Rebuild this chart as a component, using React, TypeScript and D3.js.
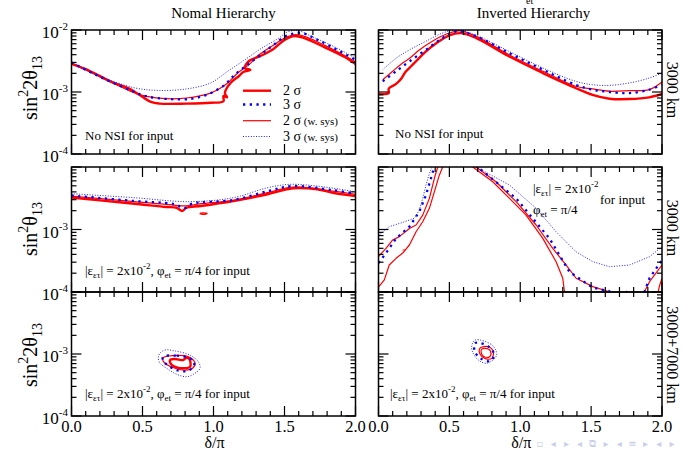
import React from "react";
import * as d3 from "d3";

type Pt = [number, number];

const FONT = "'Liberation Serif', 'Times New Roman', Times, serif";

// axis ticks
const xMajorTicks = [0, 0.5, 1.0, 1.5, 2.0];
const xTickLabels = ["0.0", "0.5", "1.0", "1.5", "2.0"];
const yDecades = [1e-4, 1e-3, 1e-2];
const yDecadeLabels = ["-4", "-3", "-2"];

const legendLabels = ["2 σ", "3 σ", "2 σ", "3 σ"];
const legendSuffix = ["", "", " (w. sys)", " (w. sys)"];

// ---------- Normal hierarchy, no NSI (top-left) ----------
const nhNoNsi2s: Pt[] = [
  [0, 2.83e-3], [0.13, 2.18e-3], [0.27, 1.5e-3], [0.41, 1.12e-3], [0.48, 8.95e-4], [0.56, 6.9e-4],
  [0.62, 6.5e-4], [0.81, 6.5e-4], [0.98, 6.7e-4], [1.07, 7.1e-4], [1.07, 8.6e-4], [1.095, 8.2e-4],
  [1.08, 9.6e-4], [1.12, 1.4e-3], [1.18, 1.81e-3], [1.21, 2.1e-3], [1.26, 2.28e-3], [1.22, 2.44e-3],
  [1.25, 3.16e-3], [1.33, 3.8e-3], [1.42, 4.9e-3], [1.5, 6.9e-3], [1.57, 8.0e-3], [1.64, 7.4e-3],
  [1.78, 5.3e-3], [1.92, 3.7e-3], [2.0, 2.83e-3],
];
const nhNoNsi3s: Pt[] = [
  [0, 3.0e-3], [0.17, 1.9e-3], [0.43, 1.03e-3], [0.53, 8.5e-4], [0.68, 7.7e-4], [0.85, 7.8e-4],
  [0.98, 9.6e-4], [1.08, 1.31e-3], [1.15, 1.9e-3], [1.27, 3.1e-3], [1.41, 5.45e-3], [1.52, 8.2e-3],
  [1.62, 8.9e-3], [1.73, 7.0e-3], [1.87, 4.8e-3], [2.0, 3.3e-3],
];
const nhNoNsi2sSys: Pt[] = [
  [0, 2.94e-3], [0.27, 1.47e-3], [0.45, 9.6e-4], [0.53, 8.5e-4], [0.66, 7.8e-4], [0.81, 8.0e-4],
  [0.98, 9.6e-4], [1.03, 1.09e-3], [1.1, 1.4e-3], [1.17, 2.02e-3], [1.25, 2.76e-3], [1.31, 3.8e-3],
  [1.41, 5.45e-3], [1.5, 7.4e-3], [1.58, 8.4e-3], [1.66, 7.6e-3], [1.78, 5.7e-3], [1.92, 3.9e-3],
  [2.0, 3.05e-3],
];
const nhNoNsi3sSys: Pt[] = [
  [0, 3.1e-3], [0.2, 1.79e-3], [0.45, 1.16e-3], [0.62, 1.06e-3], [0.81, 1.12e-3], [0.98, 1.4e-3],
  [1.1, 2.16e-3], [1.22, 3.3e-3], [1.34, 5.1e-3], [1.46, 7.4e-3], [1.52, 9.3e-3], [1.6, 9.7e-3],
  [1.69, 7.9e-3], [1.87, 5.1e-3], [2.0, 3.5e-3],
];

// ---------- Inverted hierarchy, no NSI (top-right) ----------
const ihNoNsi2s: Pt[] = [
  [0, 9.3e-4], [0.072, 9.6e-4], [0.072, 1.13e-3], [0.124, 1.35e-3], [0.16, 1.64e-3], [0.19, 2.1e-3],
  [0.23, 2.6e-3], [0.265, 3.13e-3], [0.335, 4.53e-3], [0.41, 6.17e-3], [0.5, 8.2e-3], [0.58, 8.9e-3],
  [0.69, 7.4e-3], [0.92, 3.77e-3], [1.16, 2.02e-3], [1.3, 1.43e-3], [1.39, 1.16e-3], [1.51, 9.0e-4],
  [1.63, 7.8e-4], [1.77, 7.7e-4], [1.91, 8.2e-4], [2.0, 9.3e-4],
];
const ihNoNsi3s: Pt[] = [
  [0.03, 1.49e-3], [0.124, 2.16e-3], [0.22, 3.13e-3], [0.335, 4.8e-3], [0.45, 7.4e-3], [0.55, 9.5e-3],
  [0.69, 7.9e-3], [0.92, 4.26e-3], [1.16, 2.29e-3], [1.39, 1.31e-3], [1.51, 1.09e-3], [1.63, 1.0e-3],
  [1.77, 9.6e-4], [1.91, 1.09e-3], [2.0, 1.31e-3],
];
const ihNoNsi2sSys: Pt[] = [
  [0.03, 1.58e-3], [0.1, 2.16e-3], [0.17, 2.94e-3], [0.22, 3.5e-3], [0.29, 4.8e-3], [0.38, 6.6e-3],
  [0.48, 8.6e-3], [0.57, 9.7e-3], [0.69, 7.9e-3], [0.92, 4.0e-3], [1.16, 2.16e-3], [1.39, 1.24e-3],
  [1.51, 1.12e-3], [1.63, 1.03e-3], [1.77, 1.05e-3], [1.91, 1.09e-3], [2.0, 1.45e-3],
];
const ihNoNsi3sSys: Pt[] = [
  [0.03, 2.29e-3], [0.124, 3.5e-3], [0.22, 4.8e-3], [0.335, 6.6e-3], [0.45, 8.9e-3], [0.55, 1.0e-2],
  [0.69, 8.2e-3], [0.92, 4.53e-3], [1.16, 2.44e-3], [1.39, 1.49e-3], [1.51, 1.31e-3], [1.63, 1.28e-3],
  [1.77, 1.4e-3], [1.91, 1.68e-3], [2.0, 2.02e-3],
];

// ---------- Normal hierarchy, NSI input (middle-left) ----------
const nhNsi2s: Pt[] = [
  [0, 3.23e-3], [0.2, 2.93e-3], [0.48, 2.53e-3], [0.67, 2.29e-3], [0.74, 2.23e-3], [0.78, 1.98e-3],
  [0.81, 2.23e-3], [0.91, 2.38e-3], [1.14, 2.86e-3], [1.38, 3.66e-3], [1.56, 4.56e-3], [1.73, 4.4e-3],
  [1.84, 3.88e-3], [2.0, 3.43e-3],
];
const nhNsi2sIsland: Pt[] = [[0.905, 1.79e-3], [0.93, 1.84e-3], [0.955, 1.79e-3], [0.93, 1.74e-3]];
const nhNsi3s: Pt[] = [
  [0, 3.5e-3], [0.44, 2.86e-3], [0.72, 2.55e-3], [0.8, 2.21e-3], [0.85, 2.59e-3], [1.14, 2.96e-3],
  [1.38, 4.1e-3], [1.56, 4.95e-3], [1.84, 4.27e-3], [2.0, 3.74e-3],
];
const nhNsi2sSys: Pt[] = [
  [0, 3.43e-3], [0.44, 2.79e-3], [0.67, 2.53e-3], [0.8, 2.38e-3], [0.91, 2.59e-3], [1.14, 2.93e-3],
  [1.38, 3.88e-3], [1.56, 4.79e-3], [1.84, 4.1e-3], [2.0, 3.66e-3],
];
const nhNsi3sSys: Pt[] = [
  [0, 3.74e-3], [0.44, 3.23e-3], [0.83, 2.79e-3], [1.14, 3.23e-3], [1.38, 4.66e-3], [1.54, 5.28e-3],
  [1.73, 4.95e-3], [2.0, 4.02e-3],
];

// ---------- Inverted hierarchy, NSI input (middle-right) ----------
const ihNsi2s: Pt[] = [
  [0.0, 1.2e-4], [0.041, 1.56e-4], [0.076, 2.7e-4], [0.124, 3.46e-4], [0.171, 4.2e-4], [0.218, 5.65e-4],
  [0.265, 9.2e-4], [0.312, 1.33e-3], [0.359, 2.18e-3], [0.394, 4.0e-3], [0.429, 7.4e-3], [0.453, 1.0e-2],
  [0.47, 1.5e-2], [0.64, 1.5e-2], [0.665, 1.0e-2], [0.806, 5.8e-3], [0.924, 3.15e-3], [1.041, 1.7e-3],
  [1.159, 7.2e-4], [1.253, 3.05e-4], [1.3, 1.66e-4], [1.312, 1.0e-4], [1.32, 7e-5], [1.96, 7e-5],
  [1.98, 1.2e-4], [2.0, 1.66e-4],
];
const ihNsi3s: Pt[] = [
  [0.0, 2.9e-4], [0.053, 4.2e-4], [0.124, 7.2e-4], [0.218, 1.11e-3], [0.288, 1.93e-3], [0.335, 3.56e-3],
  [0.37, 6.6e-3], [0.394, 1.0e-2], [0.4, 1.5e-2], [0.7, 1.5e-2], [0.712, 9.5e-3], [0.971, 3.15e-3],
  [1.206, 7.2e-4], [1.347, 2.1e-4], [1.512, 1.17e-4], [1.629, 1.03e-4], [1.7, 7e-5], [1.85, 7e-5],
  [1.912, 1.66e-4], [2.0, 3.25e-4],
];
const ihNsi2sSys: Pt[] = [
  [0.0, 3.7e-4], [0.053, 5.0e-4], [0.1, 6.8e-4], [0.147, 7.7e-4], [0.218, 1.04e-3], [0.265, 1.18e-3],
  [0.312, 1.7e-3], [0.359, 3.15e-3], [0.394, 6.6e-3], [0.418, 1.0e-2], [0.43, 1.5e-2], [0.67, 1.5e-2],
  [0.688, 1.0e-2], [0.829, 5.8e-3], [0.971, 2.79e-3], [1.112, 1.18e-3], [1.229, 5.0e-4], [1.324, 2.7e-4],
  [1.394, 1.66e-4], [1.512, 1.22e-4], [1.629, 1.01e-4], [1.7, 7e-5], [1.75, 1.03e-4], [1.78, 7e-5],
  [1.84, 7e-5], [1.912, 1.46e-4], [2.0, 2.7e-4],
];
const ihNsi2sSysIsland: Pt[] = [[0.17, 4.7e-4], [0.19, 4.7e-4]];
const ihNsi3sSys: Pt[] = [
  [0.0, 8.0e-4], [0.076, 1.11e-3], [0.171, 1.3e-3], [0.253, 1.51e-3], [0.288, 2.05e-3], [0.312, 3.15e-3],
  [0.335, 5.15e-3], [0.359, 7.9e-3], [0.378, 1.0e-2], [0.385, 1.5e-2], [0.68, 1.5e-2], [0.688, 1.0e-2],
  [0.924, 5.15e-3], [1.112, 2.18e-3], [1.253, 9.2e-4], [1.394, 4.4e-4], [1.512, 3.05e-4], [1.629, 2.54e-4],
  [1.77, 2.7e-4], [1.912, 3.67e-4], [2.0, 5.3e-4],
];

// ---------- Normal hierarchy, two baselines (bottom-left, closed contours) ----------
const nhTwo2s: Pt[] = [
  [0.694, 8.0e-4], [0.729, 8.3e-4], [0.788, 8.0e-4], [0.807, 8.7e-4], [0.83, 8.3e-4], [0.835, 6.2e-4],
  [0.788, 5.9e-4], [0.741, 6.1e-4], [0.703, 6.8e-4],
];
const nhTwo3s: Pt[] = [
  [0.645, 9.0e-4], [0.741, 9.4e-4], [0.823, 8.7e-4], [0.863, 7.5e-4], [0.858, 6.2e-4], [0.811, 5.3e-4],
  [0.741, 5.5e-4], [0.682, 6.5e-4], [0.645, 7.7e-4],
];
const nhTwo2sSys: Pt[] = [
  [0.645, 8.7e-4], [0.71, 9.4e-4], [0.823, 9.0e-4], [0.87, 7.1e-4], [0.853, 5.9e-4], [0.8, 5.5e-4],
  [0.729, 5.9e-4], [0.67, 6.8e-4], [0.645, 7.7e-4],
];
const nhTwo3sSys: Pt[] = [
  [0.623, 1.03e-3], [0.658, 1.16e-3], [0.729, 1.12e-3], [0.835, 9.6e-4], [0.893, 7.5e-4], [0.905, 5.9e-4],
  [0.858, 4.7e-4], [0.811, 4.3e-4], [0.741, 4.7e-4], [0.67, 5.9e-4], [0.623, 7.1e-4], [0.611, 8.7e-4],
];

// ---------- Inverted hierarchy, two baselines (bottom-right, closed contours) ----------
const ihTwo2s: Pt[] = [
  [0.728, 1.2e-3], [0.775, 1.2e-3], [0.794, 1.0e-3], [0.78, 8.9e-4], [0.74, 9.2e-4], [0.725, 1.05e-3],
];
const ihTwo3s: Pt[] = [
  [0.68, 1.5e-3], [0.77, 1.35e-3], [0.815, 1.0e-3], [0.79, 7.7e-4], [0.72, 8.5e-4], [0.68, 1.1e-3],
];
const ihTwo2sSys: Pt[] = [
  [0.716, 1.24e-3], [0.775, 1.31e-3], [0.81, 1.09e-3], [0.799, 8.5e-4], [0.751, 8.5e-4], [0.716, 1.0e-3],
];
const ihTwo3sSys: Pt[] = [
  [0.681, 1.68e-3], [0.799, 1.4e-3], [0.834, 9.6e-4], [0.763, 7.1e-4], [0.704, 8.0e-4], [0.667, 1.04e-3],
  [0.657, 1.31e-3],
];

// faint slide-navigation symbols at the bottom right of the reference
const navSymbols = ["▫", "◂", "▸", "◂", "⧉", "▸", "◂", "≡", "▸", "◂", "▸"];

type StyleKey = "s2" | "s3" | "s2sys" | "s3sys";
const STYLES: Record<StyleKey, { stroke: string; width: number; dash?: string }> = {
  s2: { stroke: "#ff0000", width: 2.4 },
  s3: { stroke: "#0000ff", width: 2.3, dash: "2.3 4.4" },
  s2sys: { stroke: "#ff0000", width: 1.2 },
  s3sys: { stroke: "#2020ff", width: 1.0, dash: "1 1.6" },
};
const legendKeys: StyleKey[] = ["s2", "s3", "s2sys", "s3sys"];

type Series = { key: StyleKey; data: Pt[]; closed?: boolean };
type Panel = { col: number; row: number; curve: "smooth" | "linear"; series: Series[] };

const panels: Panel[] = [
  {
    col: 0, row: 0, curve: "smooth",
    series: [
      { key: "s2", data: nhNoNsi2s }, { key: "s2sys", data: nhNoNsi2sSys },
      { key: "s3", data: nhNoNsi3s }, { key: "s3sys", data: nhNoNsi3sSys },
    ],
  },
  {
    col: 1, row: 0, curve: "smooth",
    series: [
      { key: "s2", data: ihNoNsi2s }, { key: "s2sys", data: ihNoNsi2sSys },
      { key: "s3", data: ihNoNsi3s }, { key: "s3sys", data: ihNoNsi3sSys },
    ],
  },
  {
    col: 0, row: 1, curve: "smooth",
    series: [
      { key: "s2", data: nhNsi2s }, { key: "s2sys", data: nhNsi2sIsland, closed: true },
      { key: "s2sys", data: nhNsi2sSys }, { key: "s3", data: nhNsi3s }, { key: "s3sys", data: nhNsi3sSys },
    ],
  },
  {
    col: 1, row: 1, curve: "linear",
    series: [
      { key: "s2sys", data: ihNsi2s }, { key: "s2sys", data: ihNsi2sSys },
      { key: "s2sys", data: ihNsi2sSysIsland }, { key: "s3", data: ihNsi3s }, { key: "s3sys", data: ihNsi3sSys },
    ],
  },
  {
    col: 0, row: 2, curve: "smooth",
    series: [
      { key: "s2", data: nhTwo2s, closed: true }, { key: "s2sys", data: nhTwo2sSys, closed: true },
      { key: "s3", data: nhTwo3s, closed: true }, { key: "s3sys", data: nhTwo3sSys, closed: true },
    ],
  },
  {
    col: 1, row: 2, curve: "smooth",
    series: [
      { key: "s2sys", data: ihTwo2s, closed: true }, { key: "s2sys", data: ihTwo2sSys, closed: true },
      { key: "s3", data: ihTwo3s, closed: true }, { key: "s3sys", data: ihTwo3sSys, closed: true },
    ],
  },
];

const COLS: [number, number][] = [[71.5, 355.5], [378.5, 662]];
const ROWS: [number, number][] = [[30, 154], [167, 292], [292, 416]];

function EpsText({ x, y }: { x: number; y: number }) {
  return (
    <text x={x} y={y} fontSize={13}>
      <tspan>|ε</tspan>
      <tspan dy={3} fontSize={9}>ετ</tspan>
      <tspan dy={-3}>| = 2x10</tspan>
      <tspan dy={-6} fontSize={9}>-2</tspan>
      <tspan dy={6}>, φ</tspan>
      <tspan dy={3} fontSize={9}>et</tspan>
      <tspan dy={-3}> = π/4 for input</tspan>
    </text>
  );
}

function YLabel({ cy, twoTheta }: { cy: number; twoTheta: boolean }) {
  return (
    <text transform={`translate(37,${cy}) rotate(-90)`} textAnchor="middle" fontSize={20}>
      <tspan>sin</tspan>
      <tspan dy={-9} fontSize={14}>2</tspan>
      <tspan dy={9}>{twoTheta ? "2θ" : "θ"}</tspan>
      <tspan dy={5} fontSize={14}>13</tspan>
    </text>
  );
}

export default function App() {
  const W = 681;
  const H = 452;
  const xMinor = d3.range(0, 2.0001, 0.1).filter((v) => Math.abs(v * 2 - Math.round(v * 2)) > 1e-6);
  const navX = d3.scalePoint<number>().domain(d3.range(navSymbols.length)).range([540, 672]);

  return (
    <svg
      width={W}
      height={H}
      style={{ position: "fixed", left: 0, top: 0, background: "#fff", fontFamily: FONT }}
      fontFamily={FONT}
    >
      <rect x={0} y={0} width={W} height={H} fill="#fff" />
      <defs>
        {panels.map((p, i) => {
          const [x0, x1] = COLS[p.col];
          const [y0, y1] = ROWS[p.row];
          return (
            <clipPath id={`clip${i}`} key={i}>
              <rect x={x0} y={y0} width={x1 - x0} height={y1 - y0} />
            </clipPath>
          );
        })}
      </defs>

      {/* faint navigation symbols */}
      <g fill="#c9cfea" fontFamily="'DejaVu Sans', sans-serif" fontSize={10}>
        {navSymbols.map((s, i) => (
          <text key={i} x={navX(i)} y={447} textAnchor="middle">{s}</text>
        ))}
      </g>

      {panels.map((p, i) => {
        const [x0, x1] = COLS[p.col];
        const [y0, y1] = ROWS[p.row];
        const xs = d3.scaleLinear().domain([0, 2]).range([x0, x1]);
        const ys = d3.scaleLog().domain([1e-4, 1e-2]).range([y1, y0]);
        const yAll = ys.ticks();
        const yMinor = yAll.filter((v) => !yDecades.some((d) => Math.abs(d - v) / d < 1e-6));
        return (
          <g key={i}>
            <g clipPath={`url(#clip${i})`}>
              {p.series.map((s, j) => {
                const st = STYLES[s.key];
                const curve = s.closed
                  ? d3.curveCatmullRomClosed.alpha(0.5)
                  : p.curve === "smooth"
                  ? d3.curveCatmullRom.alpha(0.5)
                  : d3.curveLinear;
                const line = d3
                  .line<Pt>()
                  .x((d) => xs(d[0]))
                  .y((d) => ys(d[1]))
                  .curve(curve);
                return (
                  <path
                    key={j}
                    d={line(s.data) || ""}
                    fill="none"
                    stroke={st.stroke}
                    strokeWidth={st.width}
                    strokeDasharray={st.dash}
                    strokeLinejoin="round"
                  />
                );
              })}
            </g>
            {/* ticks */}
            <g stroke="#000" strokeWidth={1.2}>
              {xMajorTicks.map((v) => (
                <g key={`xM${v}`}>
                  <line x1={xs(v)} x2={xs(v)} y1={y1} y2={y1 - 10} />
                  <line x1={xs(v)} x2={xs(v)} y1={y0} y2={y0 + 10} />
                </g>
              ))}
              {xMinor.map((v) => (
                <g key={`xm${v}`}>
                  <line x1={xs(v)} x2={xs(v)} y1={y1} y2={y1 - 5} />
                  <line x1={xs(v)} x2={xs(v)} y1={y0} y2={y0 + 5} />
                </g>
              ))}
              {yDecades.map((v) => (
                <g key={`yM${v}`}>
                  <line x1={x0} x2={x0 + 10} y1={ys(v)} y2={ys(v)} />
                  <line x1={x1} x2={x1 - 10} y1={ys(v)} y2={ys(v)} />
                </g>
              ))}
              {yMinor.map((v) => (
                <g key={`ym${v}`}>
                  <line x1={x0} x2={x0 + 5} y1={ys(v)} y2={ys(v)} />
                  <line x1={x1} x2={x1 - 5} y1={ys(v)} y2={ys(v)} />
                </g>
              ))}
            </g>
            <rect x={x0} y={y0} width={x1 - x0} height={y1 - y0} fill="none" stroke="#000" strokeWidth={1.5} />
            {/* y tick labels on left column */}
            {p.col === 0 &&
              yDecades.map((v, k) =>
                p.row > 0 && v === 1e-2 ? null : (
                  <text key={`yl${k}`} x={68} y={ys(v) + 8} textAnchor="end" fontSize={17}>
                    <tspan>10</tspan>
                    <tspan dy={-8} fontSize={11}>{yDecadeLabels[k]}</tspan>
                  </text>
                )
              )}
            {/* x tick labels on bottom row */}
            {p.row === 2 &&
              xMajorTicks.map((v, k) => (
                <text key={`xl${k}`} x={xs(v)} y={432} textAnchor="middle" fontSize={16.5}>
                  {xTickLabels[k]}
                </text>
              ))}
            {p.row === 2 && (
              <text x={(x0 + x1) / 2 + 1} y={448} textAnchor="middle" fontSize={16}>
                δ/π
              </text>
            )}
          </g>
        );
      })}

      {/* titles */}
      <text x={223.5} y={18} textAnchor="middle" fontSize={15}>Nomal Hierarchy</text>
      <text x={533.5} y={18} textAnchor="middle" fontSize={15}>Inverted Hierarchy</text>
      <text x={526} y={4} fontSize={10}>et</text>

      {/* y axis labels */}
      <YLabel cy={88} twoTheta={true} />
      <YLabel cy={229} twoTheta={false} />
      <YLabel cy={355} twoTheta={true} />

      {/* right side labels */}
      <text transform="translate(667,90) rotate(90)" textAnchor="middle" fontSize={16}>3000 km</text>
      <text transform="translate(667,228) rotate(90)" textAnchor="middle" fontSize={16}>3000 km</text>
      <text transform="translate(667,355) rotate(90)" textAnchor="middle" fontSize={16}>3000+7000 km</text>

      {/* panel annotations */}
      <text x={85} y={140} fontSize={13}>No NSI  for input</text>
      <text x={395} y={138} fontSize={13}>No NSI  for input</text>
      <EpsText x={85} y={275} />
      <EpsText x={85} y={398} />
      <EpsText x={390} y={398} />
      <text x={533} y={193} fontSize={13}>
        <tspan>|ε</tspan>
        <tspan dy={3} fontSize={9}>ετ</tspan>
        <tspan dy={-3}>| = 2x10</tspan>
        <tspan dy={-6} fontSize={9}>-2</tspan>
      </text>
      <text x={600} y={204} fontSize={13}>for input</text>
      <text x={533} y={214} fontSize={13}>
        <tspan>φ</tspan>
        <tspan dy={3} fontSize={9}>et</tspan>
        <tspan dy={-3}> = π/4</tspan>
      </text>

      {/* legend */}
      {legendKeys.map((k, i) => {
        const st = STYLES[k];
        const ly = [90.7, 104.5, 120.7, 136.5][i];
        return (
          <g key={k}>
            <line x1={243} x2={271} y1={ly} y2={ly} stroke={st.stroke} strokeWidth={st.width} strokeDasharray={st.dash} />
            <text x={283} y={ly + 4.5} fontSize={14}>
              {legendLabels[i]}
              <tspan fontSize={11}>{legendSuffix[i]}</tspan>
            </text>
          </g>
        );
      })}
    </svg>
  );
}
